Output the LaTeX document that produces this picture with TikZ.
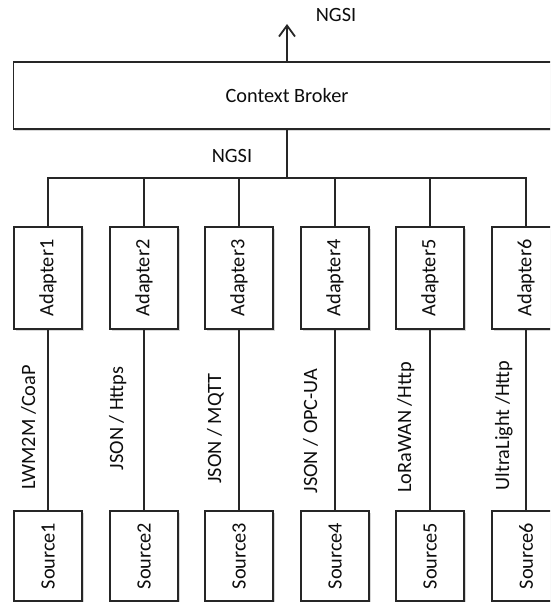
\documentclass[tikz,border=0pt]{standalone}
\usepackage{fontspec}
\setmainfont{Carlito}
\usetikzlibrary{arrows.meta,shadows}
\begin{document}
\begin{tikzpicture}[x=1pt,y=-1pt,
  every node/.style={font=\fontsize{20.3}{23}\selectfont, text=black!95},
  wire/.style={draw=black!85, line width=1.8pt},
  boxshadow/.style={drop shadow={shadow xshift=1.6pt, shadow yshift=-1.6pt, fill=black!45, opacity=0.35}},
  brokerbox/.style={wire, fill=white, boxshadow, minimum width=547pt, minimum height=67pt, inner sep=0pt},
  unitbox/.style={wire, fill=white, boxshadow, minimum width=68pt, inner sep=0pt},
  adapterbox/.style={unitbox, minimum height=102pt},
  sourcebox/.style={unitbox, minimum height=90pt},
  protolabel/.style={rotate=90, anchor=base, inner sep=0pt}
]
\useasboundingbox (0,0) rectangle (550,602);
\clip (0,0) rectangle (550,602);

% context broker with its northbound NGSI interface
\node[brokerbox] (broker) at (287,95.5) {Context Broker};
\coordinate (up) at (287,24);
\draw[wire, -{Straight Barb[length=11pt, width=16pt, line width=1.8pt]}] (broker.north) -- (up);
\node (ngsiup) at (336,14.5) {NGSI};

% southbound NGSI bus feeding the adapters
\coordinate (bus) at (287,178);
\node (ngsibus) at (232,156) {NGSI};

\foreach \i/\x/\proto/\lx/\ly in {
  1/48/{LWM2M /CoaP}/35/427.5,
  2/144/{JSON / Https}/123/418.5,
  3/239/{JSON / MQTT}/221/428.5,
  4/335/{JSON / OPC-UA}/317/431,
  5/430/{LoRaWAN /Http}/411/427.5,
  6/526/{UltraLight /Http}/509/425.5}{
  \node[adapterbox] (a\i) at (\x,278) {\rotatebox{90}{Adapter\i}};
  \node[sourcebox] (s\i) at (\x,556) {\rotatebox{90}{Source\i}};
  \draw[wire] (a\i.south) -- (s\i.north);
  \node[protolabel] (p\i) at (\lx,\ly) {\proto};
}

\draw[wire] (broker.south) -- (bus);
\draw[wire, line join=miter] (a1.north) -- (a1.north |- bus) -- (a6.north |- bus) -- (a6.north);
\foreach \i in {2,...,5}{
  \draw[wire] (a\i.north) -- (a\i.north |- bus);
}
\end{tikzpicture}
\end{document}
